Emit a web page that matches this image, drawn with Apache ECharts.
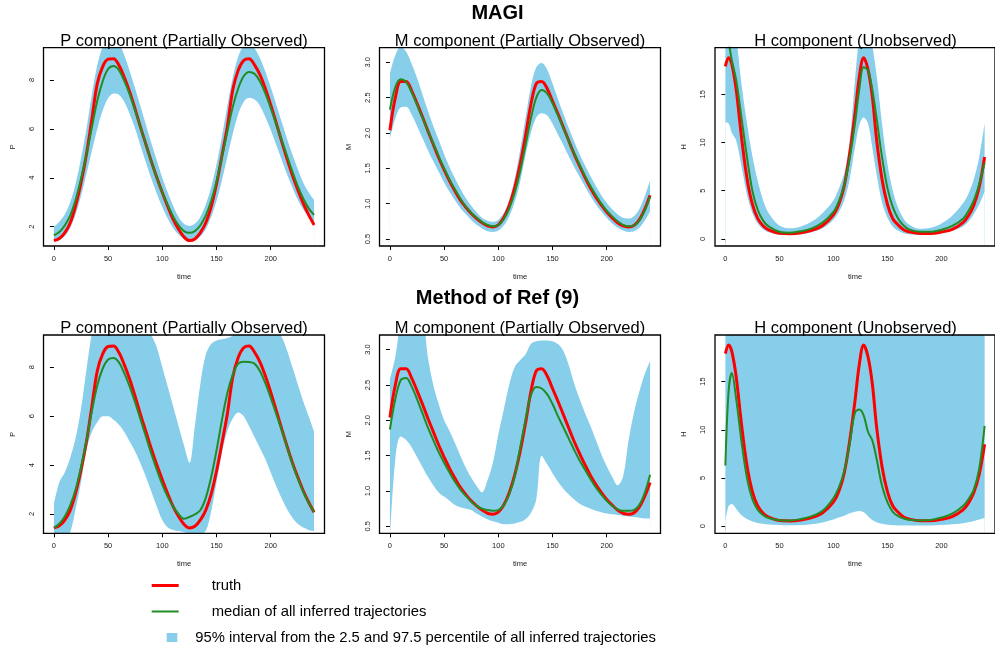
<!DOCTYPE html>
<html>
<head>
<meta charset="utf-8">
<script src="https://cdn.jsdelivr.net/npm/echarts@6.0.0/dist/echarts.min.js"></script>
<style>html,body{margin:0;padding:0;background:#fff;}#main{width:995px;height:650px;}</style>
</head>
<body>
<div id="main"></div>
<script>
// ---------- data ----------
const tPM = [0,5,10,15,20,25,30,35,40,45,50,55,60,65,70,75,80,85,90,95,100,105,110,115,120,125,130,135,140,145,150,155,160,165,170,175,180,185,190,195,200,205,210,215,220,225,230,235,240];
const tH = [0,3,6,10,15,20,25,30,35,40,50,60,70,80,90,100,105,110,115,120,124,128,132,136,140,145,150,155,160,165,170,180,190,200,210,220,225,230,235,240];

const xTicks = [0,50,100,150,200];
const pTicks = [2,4,6,8];
const mTicks = [0.5,1.0,1.5,2.0,2.5,3.0];
const hTicks = [0,5,10,15];

// truth (same in both rows)
const truthP = [1.43,1.52,1.75,2.15,2.85,3.8,4.95,6.4,7.85,8.55,8.85,8.87,8.6,8.1,7.5,6.8,6.05,5.35,4.65,4.0,3.4,2.83,2.3,1.9,1.58,1.43,1.5,1.75,2.15,2.8,3.75,4.9,6.1,7.6,8.4,8.8,8.87,8.62,8.22,7.65,6.98,6.25,5.5,4.78,4.1,3.5,2.95,2.48,2.07];
const truthM = [2.04,2.5,2.73,2.73,2.6,2.42,2.23,2.03,1.84,1.65,1.48,1.32,1.18,1.05,0.95,0.86,0.79,0.73,0.685,0.67,0.7,0.8,0.97,1.22,1.55,1.95,2.4,2.7,2.73,2.63,2.45,2.27,2.08,1.89,1.7,1.53,1.37,1.22,1.09,0.98,0.88,0.8,0.73,0.685,0.67,0.69,0.77,0.92,1.12];
const truthH = [17.9,18.8,18.1,15.5,10.5,6.3,3.6,2.1,1.35,0.95,0.6,0.55,0.65,0.9,1.4,2.5,3.6,5.5,8.8,13.0,16.8,18.8,17.6,14.8,10.3,6.2,3.6,2.1,1.45,0.95,0.75,0.57,0.57,0.72,1.0,1.7,2.4,3.5,5.4,8.5];

// MAGI
const magiMedP = [1.65,1.78,2.05,2.45,3.1,3.95,4.95,6.05,7.15,7.95,8.45,8.57,8.4,7.95,7.4,6.75,6.05,5.35,4.65,4.0,3.4,2.88,2.42,2.05,1.82,1.75,1.82,2.05,2.45,3.05,3.85,4.85,5.9,6.9,7.65,8.15,8.33,8.25,7.95,7.45,6.85,6.2,5.55,4.9,4.25,3.65,3.15,2.75,2.48];
const magiHiP = [2.0,2.2,2.5,3.0,3.75,4.8,6.0,7.4,8.6,9.35,9.65,9.7,9.5,9.0,8.35,7.65,6.9,6.15,5.4,4.7,4.0,3.4,2.85,2.4,2.12,2.03,2.12,2.4,2.9,3.6,4.55,5.7,6.95,8.1,8.95,9.4,9.5,9.3,8.9,8.35,7.7,7.0,6.3,5.6,4.95,4.35,3.8,3.4,3.1];
const magiLoP = [1.39,1.45,1.62,1.95,2.5,3.25,4.15,5.1,6.0,6.75,7.25,7.45,7.4,7.1,6.6,6.0,5.3,4.6,3.95,3.35,2.8,2.32,1.95,1.68,1.5,1.42,1.45,1.6,1.9,2.4,3.05,3.9,4.85,5.8,6.6,7.1,7.27,7.2,6.95,6.5,5.95,5.35,4.75,4.15,3.6,3.1,2.7,2.4,2.2];

const magiMedM = [2.33,2.65,2.76,2.72,2.58,2.4,2.22,2.03,1.85,1.67,1.5,1.34,1.2,1.07,0.96,0.87,0.8,0.74,0.7,0.68,0.7,0.78,0.93,1.15,1.45,1.82,2.2,2.5,2.61,2.56,2.42,2.25,2.07,1.89,1.71,1.55,1.39,1.25,1.12,1.0,0.9,0.82,0.75,0.7,0.68,0.69,0.76,0.9,1.1];
const magiHiM = [2.84,3.1,3.22,3.15,2.98,2.78,2.55,2.32,2.1,1.9,1.7,1.52,1.36,1.21,1.08,0.97,0.88,0.8,0.76,0.745,0.77,0.87,1.05,1.35,1.75,2.2,2.65,2.93,2.99,2.9,2.7,2.48,2.27,2.07,1.88,1.7,1.54,1.39,1.25,1.12,1.01,0.92,0.85,0.8,0.79,0.82,0.92,1.1,1.33];
const magiLoM = [1.92,2.2,2.36,2.37,2.26,2.1,1.93,1.76,1.6,1.45,1.3,1.17,1.05,0.94,0.85,0.77,0.7,0.65,0.61,0.6,0.62,0.69,0.82,1.02,1.3,1.68,2.0,2.22,2.28,2.25,2.13,1.98,1.83,1.67,1.52,1.38,1.24,1.11,0.99,0.89,0.8,0.72,0.66,0.62,0.6,0.61,0.66,0.76,0.89];

const magiMedH = [22.5,20.5,18.5,16.5,12.5,8.5,5.0,3.0,1.9,1.3,0.75,0.65,0.8,1.1,1.7,2.8,3.9,5.6,8.3,12.0,15.5,17.8,17.5,15.5,12.5,8.5,5.3,3.3,2.1,1.4,1.0,0.75,0.75,0.95,1.35,2.1,2.9,4.0,5.7,7.9];
const magiHiH = [25,25,24,21,16,12,8.6,6.0,4.0,2.7,1.4,1.1,1.3,1.8,2.7,4.0,5.2,6.8,10.0,16.5,21,23,22,20,17,12,7.8,5.0,3.2,2.1,1.5,1.05,1.15,1.6,2.4,3.7,4.7,6.2,8.5,12.0];
const magiLoH = [12.1,12.0,11.0,10.2,7.5,4.6,2.7,1.6,1.0,0.7,0.45,0.42,0.5,0.7,1.1,2.0,2.8,4.0,6.2,9.5,11.8,12.6,12.0,9.5,6.7,3.8,2.2,1.3,0.85,0.6,0.48,0.42,0.45,0.6,0.85,1.3,1.8,2.6,3.6,4.9];

// Method of Ref (9)
const refMedP = [1.43,1.6,1.9,2.35,3.0,3.9,5.0,6.2,7.25,7.95,8.32,8.38,8.2,7.75,7.2,6.55,5.85,5.15,4.45,3.8,3.2,2.7,2.3,2.0,1.8,1.88,1.98,2.15,2.65,3.5,4.6,5.85,6.95,7.7,8.15,8.23,8.22,8.15,7.85,7.35,6.75,6.1,5.45,4.75,4.05,3.45,2.9,2.45,2.08];
const refHiP = [2.4,3.3,3.7,4.3,5.1,6.3,7.9,9.4,10.5,11.0,11.3,11.3,11.2,11.0,10.7,10.4,10.0,9.6,9.3,8.8,8.0,7.2,6.4,5.6,4.8,4.1,5.6,7.3,8.5,8.95,9.1,9.15,9.2,9.3,9.6,9.9,10.1,10.2,10.1,9.9,9.7,9.5,9.25,8.7,8.0,7.3,6.6,6.0,5.37];
const refLoP = [1.0,1.0,1.0,1.25,2.2,3.3,4.6,5.35,5.75,6.0,6.0,5.85,5.65,5.35,4.95,4.55,4.05,3.5,2.9,2.3,1.75,1.45,1.35,1.3,1.25,1.2,1.2,1.2,1.3,2.1,3.3,4.5,5.4,5.9,6.15,6.0,5.6,5.15,4.7,4.25,3.7,3.15,2.65,2.2,1.85,1.6,1.45,1.35,1.3];

const refMedM = [1.87,2.3,2.57,2.6,2.48,2.3,2.1,1.9,1.72,1.55,1.4,1.26,1.13,1.02,0.93,0.85,0.79,0.75,0.73,0.72,0.73,0.8,0.95,1.2,1.6,2.0,2.35,2.47,2.45,2.37,2.23,2.06,1.9,1.74,1.58,1.43,1.3,1.17,1.05,0.95,0.86,0.79,0.74,0.72,0.72,0.73,0.8,0.97,1.23];
const refHiM = [2.58,2.9,3.4,3.6,3.6,3.55,3.5,2.9,2.5,2.23,2.0,1.85,1.68,1.5,1.33,1.19,1.07,0.98,1.15,1.4,1.8,2.15,2.5,2.75,2.85,2.93,3.08,3.12,3.13,3.13,3.12,3.08,2.98,2.78,2.52,2.3,2.1,1.92,1.72,1.52,1.35,1.2,1.08,1.2,1.7,2.1,2.4,2.65,2.84];
const refLoM = [0.3,1.45,1.77,1.72,1.62,1.48,1.34,1.2,1.08,0.98,0.92,0.86,0.8,0.77,0.75,0.73,0.68,0.64,0.6,0.57,0.55,0.53,0.53,0.54,0.56,0.6,0.69,0.88,1.5,1.38,1.25,1.13,1.03,0.95,0.88,0.82,0.78,0.75,0.72,0.7,0.68,0.67,0.66,0.65,0.64,0.63,0.62,0.61,0.61];

const refMedH = [6.3,14.0,15.9,13.2,8.7,5.0,2.8,1.7,1.15,0.85,0.62,0.6,0.75,1.05,1.6,2.9,4.0,5.7,8.5,11.8,12.1,11.5,9.8,8.9,7.0,4.2,2.5,1.5,1.05,0.8,0.68,0.6,0.65,0.9,1.3,2.1,2.8,3.8,6.0,10.4];
const refHiH = [25,25,25,25,25,25,25,25,25,25,25,25,25,25,25,25,25,25,25,25,25,25,25,25,25,25,25,25,25,25,25,25,25,25,25,25,25,25,25,25];
const refLoH = [0.5,2.1,2.3,1.8,1.15,0.75,0.5,0.35,0.25,0.18,0.12,0.1,0.12,0.2,0.4,0.7,0.9,1.1,1.35,1.5,1.58,1.45,1.05,0.65,0.42,0.25,0.15,0.1,0.08,0.07,0.07,0.07,0.08,0.12,0.2,0.32,0.42,0.55,0.7,0.88];

// ---------- layout / style ----------
const FONT = "'Liberation Sans', Arial, Helvetica, sans-serif";
const RED = '#FF0000', GREEN = '#228B22', BLUE = '#87CEEB';
const NAME_TRUTH = 'truth';
const NAME_MED = 'median of all inferred trajectories';
const NAME_BAND = '95% interval from the 2.5 and 97.5 percentile of all inferred trajectories';

const gridLefts = [43.5, 379.5, 715];
const gridTops = [47.7, 335];
const GW = 281, GH = 198.3;

const comps = {
  P: {min: 1.21, max: 9.32, ticks: pTicks, fmt: v => String(v), title: 'P component (Partially Observed)'},
  M: {min: 0.401, max: 3.207, ticks: mTicks, fmt: v => v.toFixed(1), title: 'M component (Partially Observed)'},
  H: {min: -0.73, max: 19.83, ticks: hTicks, fmt: v => String(v), title: 'H component (Unobserved)'}
};

const panels = [
  {row:0, col:0, c:'P', t:tPM, truth:truthP, med:magiMedP, lo:magiLoP, hi:magiHiP},
  {row:0, col:1, c:'M', t:tPM, truth:truthM, med:magiMedM, lo:magiLoM, hi:magiHiM},
  {row:0, col:2, c:'H', t:tH,  truth:truthH, med:magiMedH, lo:magiLoH, hi:magiHiH},
  {row:1, col:0, c:'P', t:tPM, truth:truthP, med:refMedP, lo:refLoP, hi:refHiP},
  {row:1, col:1, c:'M', t:tPM, truth:truthM, med:refMedM, lo:refLoM, hi:refHiM},
  {row:1, col:2, c:'H', t:tH,  truth:truthH, med:refMedH, lo:refLoH, hi:refHiH}
];

const grid = [], xAxis = [], yAxis = [], series = [], graphic = [];
const SM = 0.35;

panels.forEach((p, i) => {
  const cm = comps[p.c];
  const left = gridLefts[p.col], top = gridTops[p.row];
  grid.push({left: left, top: top, width: GW, height: GH, show: true, z: 10,
    backgroundColor: 'transparent', borderColor: '#000', borderWidth: 1.3, containLabel: false});
  xAxis.push({type: 'value', gridIndex: i, min: -9.6, max: 249.6,
    axisLine: {show: false}, splitLine: {show: false},
    axisTick: {show: true, length: 4, customValues: xTicks, lineStyle: {color: '#000', width: 1}},
    axisLabel: {customValues: xTicks, fontSize: 7.5, fontFamily: FONT, color: '#222', margin: 9},
    name: 'time', nameLocation: 'middle', nameGap: 27,
    nameTextStyle: {fontSize: 7.5, fontFamily: FONT, color: '#222'}});
  yAxis.push({type: 'value', gridIndex: i, min: cm.min, max: cm.max,
    axisLine: {show: false}, splitLine: {show: false},
    axisTick: {show: true, length: 4, customValues: cm.ticks, lineStyle: {color: '#000', width: 1}},
    axisLabel: {customValues: cm.ticks, rotate: 90, fontSize: 7.5, fontFamily: FONT, color: '#222', margin: 8, formatter: cm.fmt},
    name: p.c, nameLocation: 'middle', nameGap: 27, nameRotate: 90,
    nameTextStyle: {fontSize: 7.5, fontFamily: FONT, color: '#222'}});

  const common = {type: 'line', xAxisIndex: i, yAxisIndex: i, symbol: 'none', showSymbol: false,
    smooth: SM, animation: false, silent: true, emphasis: {disabled: true}};
  // band: upper envelope filled in blue down to the axis, then lower envelope filled in white
  series.push(Object.assign({}, common, {name: NAME_BAND, color: BLUE,
    data: p.t.map((x, k) => [x, p.hi[k]]), lineStyle: {width: 0, opacity: 0},
    areaStyle: {color: BLUE, opacity: 1, origin: 'start'}}));
  series.push(Object.assign({}, common, {name: 'lower' + i, color: '#fff',
    data: p.t.map((x, k) => [x, p.lo[k]]), lineStyle: {width: 0, opacity: 0},
    areaStyle: {color: '#fff', opacity: 1, origin: 'start'}}));
  series.push(Object.assign({}, common, {name: NAME_TRUTH, color: RED,
    data: p.t.map((x, k) => [x, p.truth[k]]), lineStyle: {color: RED, width: 3}}));
  series.push(Object.assign({}, common, {name: NAME_MED, color: GREEN,
    data: p.t.map((x, k) => [x, p.med[k]]), lineStyle: {color: GREEN, width: 2}}));

  graphic.push({type: 'text', x: left + GW / 2, y: p.row === 0 ? 41 : 328.3, z: 20,
    style: {text: cm.title, fill: '#000', font: '16.5px ' + FONT, align: 'center', verticalAlign: 'middle'}});
});

graphic.push({type: 'text', x: 497.5, y: 13.5, z: 20,
  style: {text: 'MAGI', fill: '#000', font: 'bold 20px ' + FONT, align: 'center', verticalAlign: 'middle'}});
graphic.push({type: 'text', x: 497.5, y: 298.5, z: 20,
  style: {text: 'Method of Ref (9)', fill: '#000', font: 'bold 20px ' + FONT, align: 'center', verticalAlign: 'middle'}});

const legendText = {fontSize: 14.8, fontFamily: FONT, color: '#000'};
const legend = [
  {data: [{name: NAME_TRUTH, icon: 'rect', itemStyle: {color: RED, borderWidth: 0}}],
   left: 151.7, top: 578, itemWidth: 27, itemHeight: 3, padding: 0, selectedMode: false,
   textStyle: Object.assign({padding: [0, 0, 0, 28]}, legendText)},
  {data: [{name: NAME_MED, icon: 'rect', itemStyle: {color: GREEN, borderWidth: 0}}],
   left: 151.7, top: 604, itemWidth: 27, itemHeight: 2, padding: 0, selectedMode: false,
   textStyle: Object.assign({padding: [0, 0, 0, 28]}, legendText)},
  {data: [{name: NAME_BAND, icon: 'rect', itemStyle: {color: BLUE, borderWidth: 0}}],
   left: 166.7, top: 630, itemWidth: 10.6, itemHeight: 9, padding: 0, selectedMode: false,
   textStyle: Object.assign({padding: [0, 0, 0, 13]}, legendText)}
];

const chart = echarts.init(document.getElementById('main'), null, {renderer: 'canvas'});
chart.setOption({
  animation: false,
  backgroundColor: '#fff',
  grid: grid, xAxis: xAxis, yAxis: yAxis, series: series,
  legend: legend, graphic: graphic
});
</script>
</body>
</html>
